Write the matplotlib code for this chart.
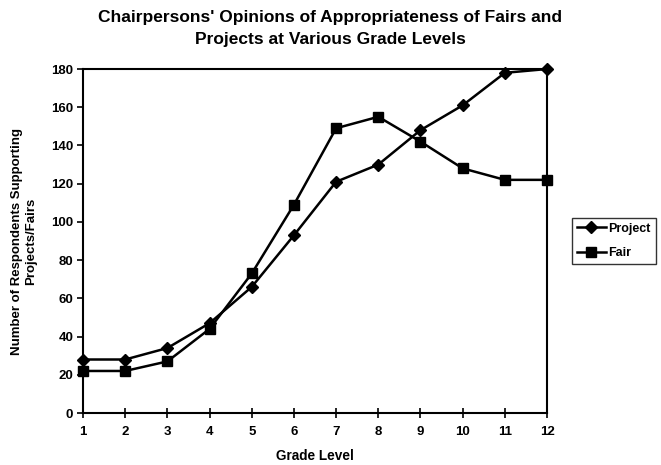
import matplotlib
matplotlib.use("Agg")
import matplotlib.pyplot as plt

plt.rcParams['font.family'] = ['Liberation Sans', 'DejaVu Sans']

grades = [1, 2, 3, 4, 5, 6, 7, 8, 9, 10, 11, 12]
project = [28, 28, 34, 47, 66, 93, 121, 130, 148, 161, 178, 180]
fair = [22, 22, 27, 44, 73, 109, 149, 155, 142, 128, 122, 122]
y_ticks = [0, 20, 40, 60, 80, 100, 120, 140, 160, 180]

fig = plt.figure(figsize=(6.61, 4.65), dpi=100)
ax = fig.add_axes([0.1256, 0.1118, 0.702, 0.7398])

ax.plot(grades, project, color='black', lw=1.8, marker='D', markersize=6.5,
        label='Project', clip_on=False, zorder=3)
ax.plot(grades, fair, color='black', lw=1.8, marker='s', markersize=7.5,
        label='Fair', clip_on=False, zorder=3)

ax.set_xlim(1, 12)
ax.set_ylim(0, 180)
ax.set_xticks(grades)
ax.set_yticks(y_ticks)
for s in ax.spines.values():
    s.set_linewidth(1.5)
ax.tick_params(axis='x', direction='inout', length=7, width=1.2, labelsize=9.5, pad=6)
ax.tick_params(axis='y', direction='out', length=4, width=1.2, labelsize=9.5, pad=3)
for lab in ax.get_xticklabels() + ax.get_yticklabels():
    lab.set_fontweight('bold')

ax.set_xlabel('Grade Level', fontsize=9.8, fontweight='bold', labelpad=8)
ax.set_ylabel('Number of Respondents Supporting\nProjects/Fairs', fontsize=9.5,
              fontweight='bold', labelpad=10)
fig.text(0.5, 0.978,
         "Chairpersons' Opinions of Appropriateness of Fairs and\nProjects at Various Grade Levels",
         ha='center', va='top', fontsize=12.5, fontweight='bold', linespacing=1.55)

leg = ax.legend(loc='center left', bbox_to_anchor=(1.054, 0.5), frameon=True,
                fancybox=False, edgecolor='black', fontsize=9, handlelength=2.3,
                handletextpad=0.2, borderpad=0.4, labelspacing=1.0, borderaxespad=0)
leg.get_frame().set_linewidth(1.0)
for t in leg.get_texts():
    t.set_fontweight('bold')

fig.savefig('out.png', dpi=100)
